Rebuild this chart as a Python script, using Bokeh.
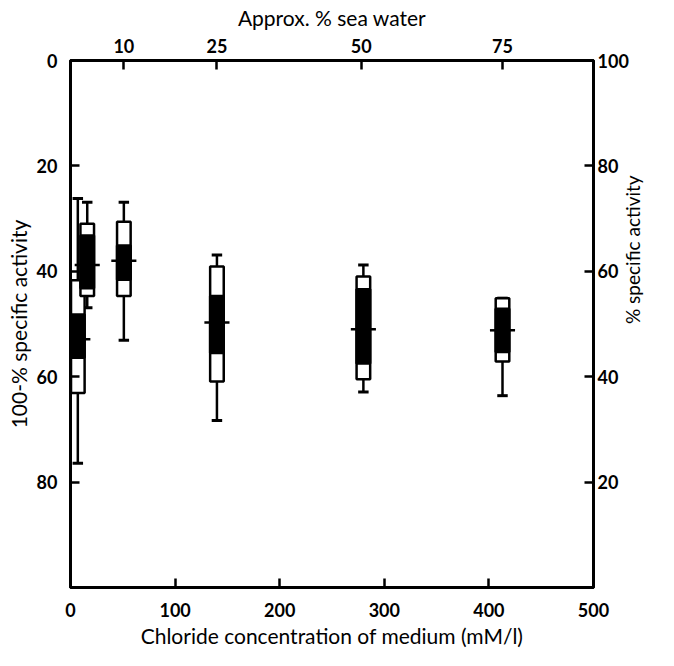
import math
from bokeh.plotting import figure
from bokeh.models import Range1d, LinearAxis, FixedTicker, ColumnDataSource
from bokeh.embed import file_html
from bokeh.resources import INLINE

# ---- data ----
chloride = [7, 16, 51, 140, 280, 413]          # mM/l
whisk_top = [26.2, 26.9, 26.9, 36.9, 38.8, 45.1]  # 100-% specific activity
box_top = [41.7, 31.0, 30.6, 39.1, 41.0, 45.1]
dark_top = [48.2, 33.2, 35.1, 44.7, 43.4, 47.1]
dark_bot = [56.4, 43.2, 41.6, 55.5, 57.5, 55.3]
box_bot = [63.1, 44.7, 44.7, 60.9, 60.5, 57.1]
whisk_bot = [76.4, 46.9, 53.1, 68.3, 62.9, 63.6]
mean_val = [52.9, 38.8, 38.0, 49.7, 51.0, 51.2]

x_ticks = [0, 100, 200, 300, 400, 500]
left_ticks = [0, 20, 40, 60, 80]
right_ticks = [20, 40, 60, 80, 100]
sea_ticks_mM = [51, 140, 278, 413]
sea_labels = ["10", "25", "50", "75"]

x_title = "Chloride concentration of medium (mM/l)"
top_title = "Approx. % sea water"
left_title = "100-% specific activity"
right_title = "% specific activity"

FONT = "Lato"
BOX_W = 13
CAP_HALF = 5
MEAN_HALF = 12

src = ColumnDataSource(dict(
    x=chloride, wt=whisk_top, bt=box_top, dt=dark_top, db=dark_bot,
    bb=box_bot, wb=whisk_bot, m=mean_val,
    cl=[c - CAP_HALF for c in chloride], cr=[c + CAP_HALF for c in chloride],
    ml=[c - MEAN_HALF for c in chloride], mr=[c + MEAN_HALF for c in chloride],
))

p = figure(width=658, height=650, output_backend="svg",
           toolbar_location=None, x_range=Range1d(0, 500), y_range=Range1d(100, 0),
           min_border_left=70, min_border_right=62, min_border_top=60, min_border_bottom=62,
           x_axis_location=None, y_axis_location=None)
p.xgrid.visible = False
p.ygrid.visible = False
p.outline_line_color = "black"
p.outline_line_width = 3
p.background_fill_color = "white"
p.border_fill_color = "white"

p.extra_y_ranges = {"pct": Range1d(0, 100)}

def style(ax, title, title_size):
    ax.axis_line_color = "black"
    ax.axis_line_width = 3
    ax.major_tick_line_color = "black"
    ax.major_tick_line_width = 2.5
    ax.major_tick_in = 9
    ax.major_tick_out = 0
    ax.minor_tick_line_color = None
    ax.major_label_text_font = FONT
    ax.major_label_text_font_style = "bold"
    ax.major_label_text_font_size = "18px"
    ax.major_label_text_color = "black"
    ax.axis_label = title
    ax.axis_label_text_font = FONT
    ax.axis_label_text_font_style = "normal"
    ax.axis_label_text_font_size = title_size
    ax.axis_label_text_color = "black"

bottom = LinearAxis(ticker=FixedTicker(ticks=x_ticks))
style(bottom, x_title, "21px")
bottom.major_label_standoff = 15
bottom.axis_label_standoff = 3
p.add_layout(bottom, "below")

top = LinearAxis(ticker=FixedTicker(ticks=sea_ticks_mM),
                 major_label_overrides={t: s for t, s in zip(sea_ticks_mM, sea_labels)})
style(top, top_title, "21px")
top.major_label_standoff = 8
top.axis_label_standoff = 6
p.add_layout(top, "above")

left = LinearAxis(ticker=FixedTicker(ticks=left_ticks))
style(left, left_title, "21px")
left.major_label_standoff = 13
left.axis_label_standoff = 3
p.add_layout(left, "left")

right = LinearAxis(y_range_name="pct", ticker=FixedTicker(ticks=right_ticks))
style(right, right_title, "19px")
right.major_label_standoff = 4
right.axis_label_standoff = 1
if "axis_label_orientation" in LinearAxis.properties():
    right.axis_label_orientation = math.pi / 2
p.add_layout(right, "right")

# whiskers
p.segment(x0="x", y0="wt", x1="x", y1="bt", source=src, line_color="black", line_width=2.5)
p.segment(x0="x", y0="bb", x1="x", y1="wb", source=src, line_color="black", line_width=2.5)
p.segment(x0="cl", y0="wt", x1="cr", y1="wt", source=src, line_color="black", line_width=3)
p.segment(x0="cl", y0="wb", x1="cr", y1="wb", source=src, line_color="black", line_width=3)
# boxes
p.vbar(x="x", width=BOX_W, top="bt", bottom="bb", source=src,
       fill_color="white", line_color="black", line_width=2.5)
p.vbar(x="x", width=BOX_W, top="dt", bottom="db", source=src,
       fill_color="black", line_color="black", line_width=2.5)
# mean
p.segment(x0="ml", y0="m", x1="mr", y1="m", source=src, line_color="black", line_width=2.5)

open("out.html", "w").write(file_html(p, INLINE))
